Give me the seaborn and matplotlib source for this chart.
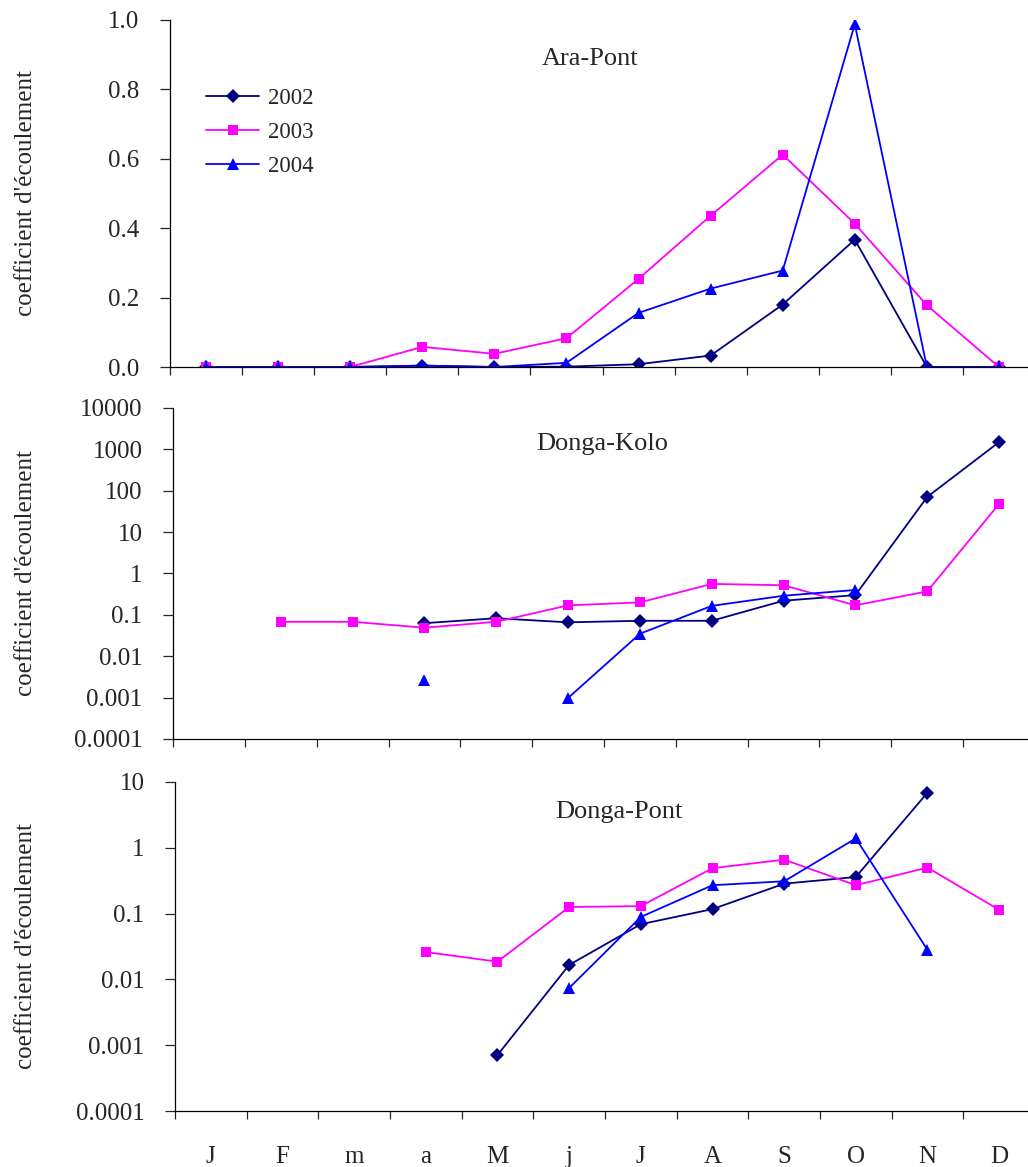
import numpy as np
import pandas as pd
import matplotlib
matplotlib.use("Agg")
import matplotlib.pyplot as plt
import seaborn as sns
from matplotlib.lines import Line2D

sns.set_style("ticks")
plt.rcParams['font.family'] = ['Liberation Serif', 'DejaVu Serif']

nan = np.nan

# months (categories on the x axis)
months = ['J', 'F', 'm', 'a', 'M', 'j', 'J', 'A', 'S', 'O', 'N', 'D']
years = ['2002', '2003', '2004']

# Ara-Pont (linear scale)
ara_2002 = [0, 0, 0, 0.004, 0, 0.001, 0.008, 0.033, 0.18, 0.367, 0, 0]
ara_2003 = [0, 0, 0, 0.058, 0.038, 0.083, 0.254, 0.436, 0.612, 0.413, 0.178, 0]
ara_2004 = [0, 0, 0, 0.004, 0, 0.012, 0.156, 0.226, 0.278, 0.988, 0, 0]

# Donga-Kolo (log scale)
kolo_2002 = [nan, nan, nan, 0.063, 0.083, 0.066, 0.072, 0.072, 0.22, 0.30, 71, 1500]
kolo_2003 = [nan, 0.068, 0.068, 0.049, 0.068, 0.17, 0.20, 0.56, 0.52, 0.17, 0.37, 48]
kolo_2004 = [nan, nan, nan, 0.0027, nan, 0.00098, 0.035, 0.165, 0.29, 0.40, nan, nan]

# Donga-Pont (log scale)
pont_2002 = [nan, nan, nan, nan, 0.00071, 0.0166, 0.069, 0.117, 0.285, 0.36, 6.9, nan]
pont_2003 = [nan, nan, nan, 0.026, 0.0186, 0.126, 0.13, 0.49, 0.66, 0.27, 0.50, 0.114]
pont_2004 = [nan, nan, nan, nan, nan, 0.0074, 0.089, 0.27, 0.31, 1.39, 0.028, nan]

colors = {'2002': '#000080', '2003': '#FF00FF', '2004': '#0000FF'}
markers = {'2002': 'D', '2003': 's', '2004': '^'}
msizes = {'2002': 7, '2003': 7.5, '2004': 8.5}

log_ticks = [0.0001, 0.001, 0.01, 0.1, 1, 10, 100, 1000, 10000]
log_labels = ['0.0001', '0.001', '0.01', '0.1', '1', '10', '100', '1000', '10000']


def to_long(series):
    # one row per point, with a segment id so gaps (NaN) break the line
    rows = []
    for year, vals in zip(years, series):
        seg = 0
        prev_ok = False
        for i, v in enumerate(vals):
            ok = not np.isnan(v)
            if ok and not prev_ok:
                seg += 1
            if ok:
                rows.append({'month': i, 'value': v, 'year': year, 'seg': f'{year}-{seg}'})
            prev_ok = ok
    return pd.DataFrame(rows)


W, H = 1028, 1167
fig = plt.figure(figsize=(W / 100, H / 100), dpi=100)

# axes rectangles in pixels: (left, top, right, bottom)
boxes = [(170, 20, 1035, 367), (173, 408, 1035, 739), (175, 782, 1035, 1111)]
panels = [
    ('Ara-Pont', [ara_2002, ara_2003, ara_2004], 'linear', (0, 1.0), (0.486, 0.870)),
    ('Donga-Kolo', [kolo_2002, kolo_2003, kolo_2004], 'log', (1e-4, 1e4), (0.498, 0.873)),
    ('Donga-Pont', [pont_2002, pont_2003, pont_2004], 'log', (1e-4, 10), (0.516, 0.891)),
]

for k, ((l, t, r, b), (name, series, scale, ylim, tpos)) in enumerate(zip(boxes, panels)):
    ax = fig.add_axes([l / W, 1 - b / H, (r - l) / W, (b - t) / H])
    df = to_long(series)
    for year in years:
        sub = df[df['year'] == year]
        sns.lineplot(data=sub, x='month', y='value', units='seg', estimator=None,
                     color=colors[year], marker=markers[year], markersize=msizes[year],
                     markeredgewidth=0, linewidth=1.3, ax=ax, legend=False, sort=False)

    ax.set_yscale(scale)
    ax.set_ylim(*ylim)
    ax.set_xlim(-0.5, 11.5)
    if scale == 'log':
        lo, hi = ylim
        tk = [v for v in log_ticks if lo <= v <= hi]
        ax.set_yticks(tk)
        ax.set_yticklabels([log_labels[log_ticks.index(v)] for v in tk])
        ax.yaxis.set_minor_locator(matplotlib.ticker.NullLocator())
    else:
        ax.set_yticks([0, 0.2, 0.4, 0.6, 0.8, 1.0])
        ax.set_yticklabels(['0.0', '0.2', '0.4', '0.6', '0.8', '1.0'])

    # month boundaries as minor ticks, month names on the bottom panel only
    ax.set_xticks(range(12))
    ax.set_xticks(np.arange(-0.5, 11.0, 1.0), minor=True)
    if k == 2:
        ax.set_xticklabels(months, fontsize=18)
    else:
        ax.set_xticklabels([])
    ax.tick_params(axis='x', which='major', length=0, pad=25)
    ax.tick_params(axis='x', which='minor', length=6, width=0.9, direction='out')
    ax.tick_params(axis='y', which='major', length=7, width=0.9, direction='out',
                   labelsize=18, pad=15)

    ax.set_xlabel('')
    ax.set_ylabel("coefficient d'écoulement", fontsize=18)
    ax.yaxis.set_label_coords((37 - l) / (r - l), 0.5)

    sns.despine(ax=ax)
    for sp in ('left', 'bottom'):
        ax.spines[sp].set_linewidth(0.9)
        ax.spines[sp].set_color('black')

    ax.text(tpos[0], tpos[1], name, transform=ax.transAxes, ha='center',
            va='baseline', fontsize=19)

    if k == 0:
        handles = [Line2D([], [], color=colors[y], marker=markers[y],
                          markersize=msizes[y], markeredgewidth=0, linewidth=1.3)
                   for y in years]
        ax.legend(handles, years, loc='upper left', bbox_to_anchor=(0.042, 0.803),
                  frameon=False, fontsize=16.5, handlelength=2.3, handletextpad=0.4,
                  labelspacing=0.55, borderpad=0, borderaxespad=0)

fig.savefig('out.png', dpi=100)
